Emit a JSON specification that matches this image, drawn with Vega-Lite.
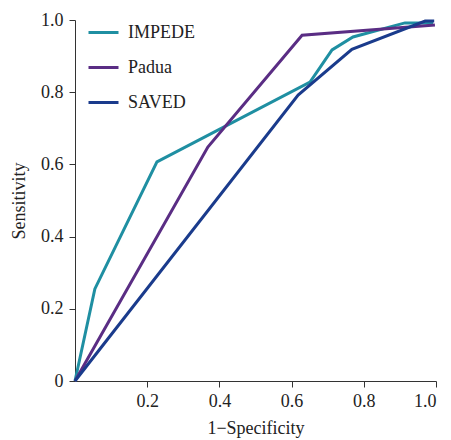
{
  "$schema": "https://vega.github.io/schema/vega-lite/v6.json",
  "width": 361,
  "height": 361,
  "autosize": "none",
  "padding": {"left": 75, "top": 20, "right": 15, "bottom": 59},
  "background": "white",
  "config": {
    "font": "Liberation Serif",
    "view": {"stroke": null}
  },
  "data": {
    "values": [
      {"model": "IMPEDE", "fpr": 0, "tpr": 0},
      {"model": "IMPEDE", "fpr": 0.055, "tpr": 0.255},
      {"model": "IMPEDE", "fpr": 0.227, "tpr": 0.607},
      {"model": "IMPEDE", "fpr": 0.651, "tpr": 0.828},
      {"model": "IMPEDE", "fpr": 0.712, "tpr": 0.917},
      {"model": "IMPEDE", "fpr": 0.77, "tpr": 0.953},
      {"model": "IMPEDE", "fpr": 0.914, "tpr": 0.992},
      {"model": "IMPEDE", "fpr": 0.992, "tpr": 0.992},
      {"model": "Padua", "fpr": 0, "tpr": 0},
      {"model": "Padua", "fpr": 0.368, "tpr": 0.648},
      {"model": "Padua", "fpr": 0.629, "tpr": 0.958},
      {"model": "Padua", "fpr": 0.997, "tpr": 0.986},
      {"model": "SAVED", "fpr": 0, "tpr": 0},
      {"model": "SAVED", "fpr": 0.618, "tpr": 0.792},
      {"model": "SAVED", "fpr": 0.767, "tpr": 0.919},
      {"model": "SAVED", "fpr": 0.97, "tpr": 0.997},
      {"model": "SAVED", "fpr": 0.995, "tpr": 0.997}
    ]
  },
  "mark": {"type": "line", "strokeWidth": 3},
  "encoding": {
    "x": {
      "field": "fpr", "type": "quantitative",
      "scale": {"domain": [0, 1], "nice": false, "zero": true},
      "axis": {
        "title": "1−Specificity", "values": [0.2, 0.4, 0.6, 0.8, 1.0], "format": ".1f",
        "grid": false, "domainColor": "#333", "tickColor": "#333", "tickSize": 6,
        "labelFontSize": 18, "labelColor": "#222", "labelPadding": 5,
        "titleFontSize": 18, "titleFontWeight": "normal", "titleColor": "#222", "titlePadding": 9
      }
    },
    "y": {
      "field": "tpr", "type": "quantitative",
      "scale": {"domain": [0, 1], "nice": false},
      "axis": {
        "title": "Sensitivity", "values": [0, 0.2, 0.4, 0.6, 0.8, 1.0],
        "labelExpr": "datum.value == 0 ? '0' : format(datum.value, '.1f')",
        "grid": false, "domainColor": "#333", "tickColor": "#333", "tickSize": 6,
        "labelFontSize": 18, "labelColor": "#222", "labelPadding": 6,
        "titleFontSize": 18, "titleFontWeight": "normal", "titleColor": "#222", "titlePadding": 12
      }
    },
    "color": {
      "field": "model", "type": "nominal",
      "scale": {"domain": ["IMPEDE", "Padua", "SAVED"], "range": ["#1f8fa2", "#5a2d84", "#1a3b8c"]},
      "legend": {
        "title": null, "orient": "none", "legendX": 12, "legendY": -4,
        "symbolType": "stroke", "symbolSize": 900, "symbolStrokeWidth": 3,
        "labelFontSize": 18, "labelColor": "#222", "rowPadding": 9, "labelOffset": 8
      }
    }
  }
}
